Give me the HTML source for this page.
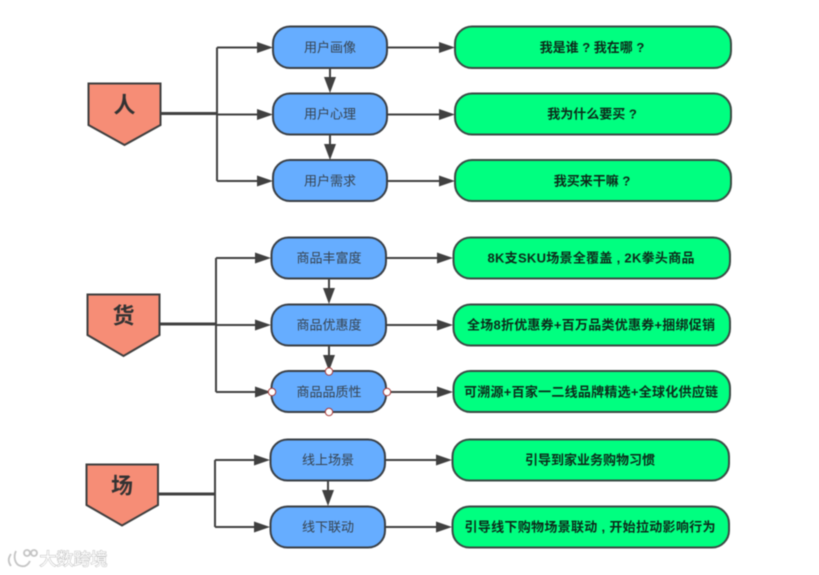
<!DOCTYPE html>
<html lang="zh">
<head>
<meta charset="utf-8">
<style>
html,body{margin:0;padding:0;background:#fff;width:819px;height:575px;overflow:hidden}
svg{display:block;filter:blur(.45px)}
text{font-family:"Liberation Sans","Noto Sans CJK SC",sans-serif;text-anchor:middle;dominant-baseline:central}
.p{fill:#f68d76;stroke:#3f3f3f;stroke-width:2}
.b{fill:#66adff;stroke:#3a3f45;stroke-width:2}
.g{fill:#00ff80;stroke:#3a4a44;stroke-width:2}
.l{fill:none;stroke:#404040;stroke-width:2}
.t{fill:none;stroke:#404040;stroke-width:3}
.a{fill:#404040}
.bt{font-size:13px;fill:#36424e}
.gt{font-size:13px;font-weight:700;fill:#0c2a1a}
.pt{font-size:22px;font-weight:700;fill:#333}
.h{fill:#fff;stroke:#a83a3a;stroke-width:1}
</style>
</head>
<body>
<svg width="819" height="575" viewBox="0 0 819 575" xmlns="http://www.w3.org/2000/svg">
<!-- Group 1 -->
<path class="t" d="M161 113.500H217"/>
<path class="l" d="M217 47.500V181M217 47.500H258M217 114.500H258M217 181H258"/>
<path class="a" d="M273 47.500l-16-5.500v11zM273 114.500l-16-5.500v11zM273 181l-16-5.500v11z"/>
<path class="l" d="M330 68V80M330 135V147M388 47.500H440M388 114.500H440M388 181H440"/>
<path class="a" d="M330 93l-6-16h12zM330 160l-6-16h12zM455 47.500l-16-5.500v11zM455 114.500l-16-5.500v11zM455 181l-16-5.500v11z"/>
<polygon class="p" points="88.500,83.500 160.500,83.500 160.500,125 124.500,145 88.500,125"/>
<text class="pt" x="124.500" y="105">人</text>
<rect class="b" x="273" y="26.500" width="114" height="41.500" rx="17"/>
<rect class="b" x="273" y="93.500" width="114" height="41" rx="17"/>
<rect class="b" x="273" y="160" width="114" height="41" rx="17"/>
<text class="bt" x="330" y="47.500">用户画像</text>
<text class="bt" x="330" y="114">用户心理</text>
<text class="bt" x="330" y="181">用户需求</text>
<rect class="g" x="455" y="26.500" width="276" height="41.500" rx="17"/>
<rect class="g" x="455" y="93.500" width="276" height="41" rx="17"/>
<rect class="g" x="455" y="160" width="276" height="41" rx="17"/>
<text class="gt" x="592" y="47.500">我是谁 ? 我在哪 ?</text>
<text class="gt" x="592" y="114">我为什么要买 ?</text>
<text class="gt" x="592" y="181">我买来干嘛 ?</text>
<!-- Group 2 -->
<path class="t" d="M160 324H216"/>
<path class="l" d="M216 258V392M216 258H257M216 325H257M216 392H257"/>
<path class="a" d="M271 258l-16-5.500v11zM271 325l-16-5.500v11zM271 392l-16-5.500v11z"/>
<path class="l" d="M329 279V291M329 346V358M387 258H439M387 325H439M387 392H439"/>
<path class="a" d="M329 304l-6-16h12zM329 371l-6-16h12zM453 258l-16-5.500v11zM453 325l-16-5.500v11zM453 392l-16-5.500v11z"/>
<polygon class="p" points="87.500,294.500 159.500,294.500 159.500,335 123.500,356 87.500,335"/>
<text class="pt" x="123.500" y="316">货</text>
<rect class="b" x="271.500" y="237.500" width="114.500" height="41" rx="17"/>
<rect class="b" x="271.500" y="304.500" width="114.500" height="41" rx="17"/>
<rect class="b" x="271.500" y="371" width="114.500" height="41" rx="17"/>
<text class="bt" x="329" y="258">商品丰富度</text>
<text class="bt" x="329" y="325">商品优惠度</text>
<text class="bt" x="329" y="392">商品品质性</text>
<circle class="h" cx="329" cy="371.500" r="3.700"/>
<circle class="h" cx="329" cy="412" r="3.700"/>
<circle class="h" cx="272" cy="392" r="3.700"/>
<circle class="h" cx="387" cy="392" r="3.700"/>
<rect class="g" x="453.500" y="237.500" width="276.500" height="41" rx="17"/>
<rect class="g" x="453.500" y="304.500" width="276.500" height="41" rx="17"/>
<rect class="g" x="453.500" y="371" width="276.500" height="41" rx="17"/>
<text class="gt" x="591" y="258" textLength="207" lengthAdjust="spacing">8K支SKU场景全覆盖 , 2K拳头商品</text>
<text class="gt" x="591" y="325" textLength="248" lengthAdjust="spacing">全场8折优惠券+百万品类优惠券+捆绑促销</text>
<text class="gt" x="591" y="392" textLength="254" lengthAdjust="spacing">可溯源+百家一二线品牌精选+全球化供应链</text>
<!-- Group 3 -->
<path class="t" d="M159 494H215"/>
<path class="l" d="M215 460V527M215 460H256M215 527H256"/>
<path class="a" d="M270 460l-16-5.500v11zM270 527l-16-5.500v11z"/>
<path class="l" d="M328 481V493M386 460H438M386 527H438"/>
<path class="a" d="M328 506l-6-16h12zM452 460l-16-5.500v11zM452 527l-16-5.500v11z"/>
<polygon class="p" points="86.500,464.500 158,464.500 158,505 122,525.500 86.500,505"/>
<text class="pt" x="122" y="486">场</text>
<rect class="b" x="270.500" y="439.500" width="114.500" height="41" rx="17"/>
<rect class="b" x="270.500" y="506.500" width="114.500" height="41" rx="17"/>
<text class="bt" x="328" y="460">线上场景</text>
<text class="bt" x="328" y="527">线下联动</text>
<rect class="g" x="452.500" y="439.500" width="276.500" height="41" rx="17"/>
<rect class="g" x="452.500" y="506.500" width="276.500" height="41" rx="17"/>
<text class="gt" x="590" y="460">引导到家业务购物习惯</text>
<text class="gt" x="590" y="527" textLength="251" lengthAdjust="spacing">引导线下购物场景联动 , 开始拉动影响行为</text>
<!-- Watermark -->
<g fill="none" stroke="#c4c4c4" stroke-width="1.800">
<path d="M11 554c-3 4-3 8 0 12M16 551c-3 6-1 14 5 15 4 1 7-1 9-5"/>
<circle cx="27" cy="553" r="3"/>
<circle cx="34" cy="553" r="3"/>
</g>
<text x="73.500" y="559.500" style="font-size:17px;fill:#fff;stroke:#bcbcbc;stroke-width:1;paint-order:stroke">大数跨境</text>
</svg>
</body>
</html>
